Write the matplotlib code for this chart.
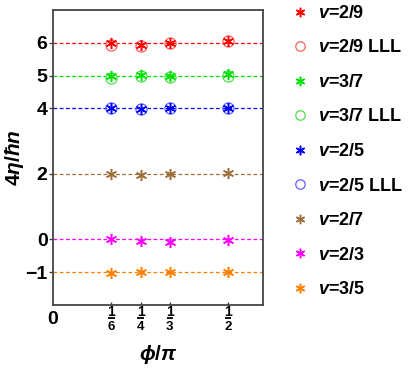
import numpy as np
import matplotlib
matplotlib.use('Agg')
import matplotlib.pyplot as plt

plt.rcParams['font.family'] = ['Liberation Sans', 'DejaVu Sans']
plt.rcParams['font.weight'] = 'bold'
plt.rcParams['mathtext.fontset'] = 'custom'
plt.rcParams['mathtext.rm'] = 'Liberation Sans:bold'
plt.rcParams['mathtext.bf'] = 'Liberation Sans:bold'
plt.rcParams['mathtext.it'] = 'Liberation Sans:bold:italic'

# phi/pi positions
phi = [1/6, 1/4, 1/3, 1/2]
phi_den = ['6', '4', '3', '2']

# reference levels
levels = [6, 5, 4, 2, 0, -1]
level_labels = ['6', '5', '4', '2', '0', '\u22121']
level_colors = ['#ff0000', '#00e000', '#0000ff', '#a0703c', '#ff00ff', '#ff8000']

# series (stars)
eta_29 = [6.0, 5.95, 6.0, 6.06]
eta_37 = [5.0, 5.03, 5.0, 5.04]
eta_25 = [4.0, 3.97, 4.0, 4.0]
eta_27 = [2.0, 1.97, 2.0, 2.04]
eta_23 = [0.01, -0.06, -0.09, -0.02]
eta_35 = [-1.03, -0.98, -1.0, -0.98]

# lowest Landau level (circles)
lll_29 = [5.93, 5.9, 6.0, 6.06]
lll_37 = [4.94, 5.0, 4.97, 5.0]
lll_25 = [4.0, 3.97, 4.0, 4.0]

ast = (6, 2, 0)

fig = plt.figure(figsize=(4.15, 3.74), dpi=100)
ax = fig.add_axes([0.128, 0.1845, 0.506, 0.7885])

for lv, c in zip(levels, level_colors):
    ax.axhline(lv, color=c, ls=(0, (3, 2)), lw=0.9, zorder=1)

ax.plot(phi, eta_29, ls='none', marker=ast, ms=8, mew=1.1, color='#ff0000', label=r'$v$=2/9', zorder=3)
ax.plot(phi, lll_29, ls='none', marker='o', ms=8, mew=0.9, mfc='none', mec='#ff6060', label=r'$v$=2/9 LLL', zorder=2)
ax.plot(phi, eta_37, ls='none', marker=ast, ms=8, mew=1.1, color='#00e000', label=r'$v$=3/7', zorder=3)
ax.plot(phi, lll_37, ls='none', marker='o', ms=8, mew=0.9, mfc='none', mec='#50e050', label=r'$v$=3/7 LLL', zorder=2)
ax.plot(phi, eta_25, ls='none', marker=ast, ms=8, mew=1.1, color='#0000ff', label=r'$v$=2/5', zorder=3)
ax.plot(phi, lll_25, ls='none', marker='o', ms=8, mew=0.9, mfc='none', mec='#6060ff', label=r'$v$=2/5 LLL', zorder=2)
ax.plot(phi, eta_27, ls='none', marker=ast, ms=8, mew=1.1, color='#a0703c', label=r'$v$=2/7', zorder=3)
ax.plot(phi, eta_23, ls='none', marker=ast, ms=8, mew=1.1, color='#ff00ff', label=r'$v$=2/3', zorder=3)
ax.plot(phi, eta_35, ls='none', marker=ast, ms=8, mew=1.1, color='#ff8000', label=r'$v$=3/5', zorder=3)

ax.set_xlim(0, 0.6)
ax.set_ylim(-2, 7)
ax.set_yticks(levels)
ax.set_yticklabels(level_labels, fontsize=14, fontweight='bold')
ax.tick_params(axis='y', direction='out', length=3, width=1, pad=1, color='#444444')
ax.set_xticks(phi)
ax.set_xticklabels([])
ax.tick_params(axis='x', direction='in', length=2.5, width=1, color='#444444')
for s in ax.spines.values():
    s.set_color('#444444')
    s.set_linewidth(1.3)

# x tick labels drawn as stacked fractions
tr = ax.get_xaxis_transform()
ax.text(0, -0.05, '0', transform=tr, ha='center', va='center', fontsize=14, fontweight='bold')
for x, d in zip(phi, phi_den):
    ax.text(x, -0.023, '1', transform=tr, ha='center', va='center', fontsize=10, fontweight='bold')
    ax.plot([x - 0.009, x + 0.009], [-0.043, -0.043], transform=tr, color='black',
            lw=1.3, clip_on=False, solid_capstyle='butt')
    ax.text(x, -0.073, d, transform=tr, ha='center', va='center', fontsize=9.5, fontweight='bold')

fig.text(14 / 415, 1 - 158 / 374, r'$4\eta/\hbar n$', rotation=90, ha='center', va='center', fontsize=15)
fig.text(158 / 415, 1 - 355 / 374, r'$\phi/\pi$', ha='center', va='center', fontsize=15)

leg = ax.legend(loc='upper left', bbox_to_anchor=(1.108, 1.042), frameon=False,
                fontsize=13, labelspacing=0.97, handlelength=0.8, handletextpad=0.6,
                borderaxespad=0, markerscale=0.85)

fig.savefig('out.png', dpi=100)
